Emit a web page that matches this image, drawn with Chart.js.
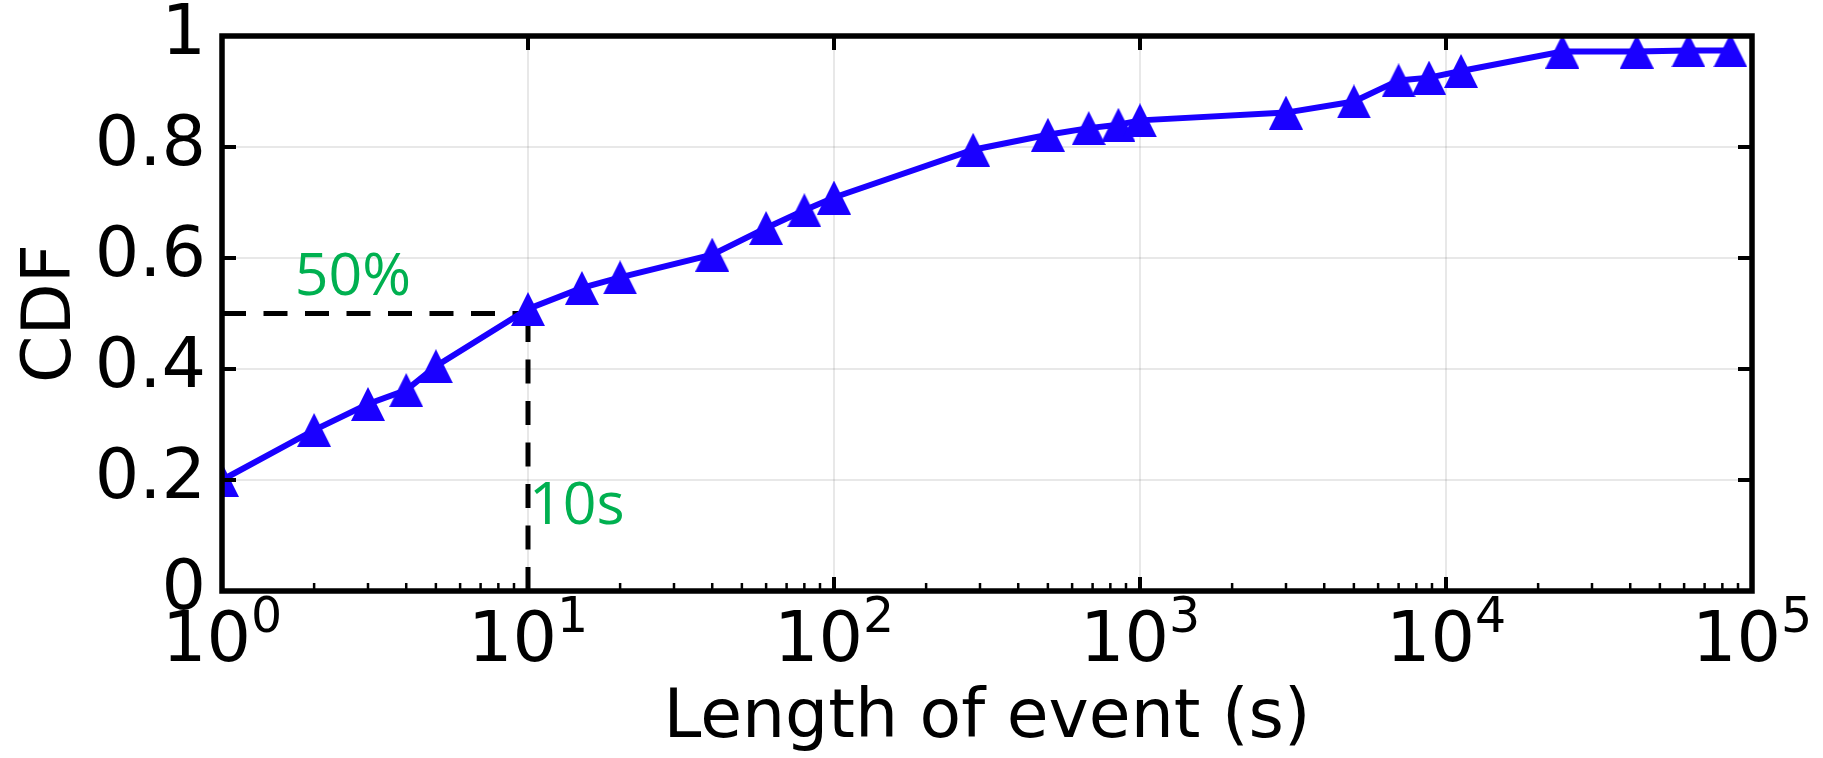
<!DOCTYPE html>
<html>
<head>
<meta charset="utf-8">
<script src="https://cdn.jsdelivr.net/npm/chart.js@4/dist/chart.umd.min.js"></script>
<style>
html,body{margin:0;padding:0;background:#fff;}
#wrap{width:1823px;height:758px;}
</style>
</head>
<body>
<div id="wrap"><canvas id="c" width="1823" height="758"></canvas></div>
<script>
// ---- data ----
const eventLengths = [1, 2, 3, 4, 5, 10, 15, 20, 40, 60, 80, 100, 285, 500, 680, 850, 1000, 3000, 5000, 7000, 8800, 11200, 24000, 42000, 62000, 85000];
const cdfValues    = [0.2, 0.29, 0.337, 0.362, 0.405, 0.508, 0.546, 0.565, 0.606, 0.654, 0.686, 0.709, 0.795, 0.822, 0.834, 0.840, 0.848, 0.862, 0.882, 0.920, 0.925, 0.937, 0.972, 0.972, 0.974, 0.974];
const xTickExponents = [0, 1, 2, 3, 4, 5];
const yTickValues = [0, 0.2, 0.4, 0.6, 0.8, 1];
const hGuideX = [1, 10];
const hGuideY = [0.5, 0.5];
const vGuideX = [10, 10];
const vGuideY = [0, 0.5];
const annotationTexts = ['50%', '10s'];
const annotationX = [1.73, 10];
const annotationY = [0.533, 0.12];

const BLUE = 'rgb(26,0,255)';
const GREEN = '#00B050';

function triangleImage(size, color) {
  const c = document.createElement('canvas');
  c.width = size; c.height = size;
  const g = c.getContext('2d');
  g.fillStyle = color;
  g.beginPath();
  g.moveTo(size / 2, 0);
  g.lineTo(size, size);
  g.lineTo(0, size);
  g.closePath();
  g.fill();
  return c;
}
const tri = triangleImage(34, BLUE);

const toPoints = (xs, ys) => xs.map((v, i) => ({x: v, y: ys[i]}));

const framePlugin = {
  id: 'frameTicks',
  afterDraw(chart) {
    const {ctx, chartArea: a, scales: {x, y}} = chart;
    ctx.save();
    ctx.strokeStyle = '#000';
    ctx.lineCap = 'butt';
    // major ticks, inward, all four sides
    ctx.lineWidth = 4;
    ctx.beginPath();
    for (const e of xTickExponents) {
      const px = x.getPixelForValue(Math.pow(10, e));
      ctx.moveTo(px, a.bottom); ctx.lineTo(px, a.bottom - 14);
      ctx.moveTo(px, a.top); ctx.lineTo(px, a.top + 14);
    }
    for (const v of yTickValues) {
      const py = y.getPixelForValue(v);
      ctx.moveTo(a.left, py); ctx.lineTo(a.left + 14, py);
      ctx.moveTo(a.right, py); ctx.lineTo(a.right - 14, py);
    }
    ctx.stroke();
    // minor ticks on bottom axis
    ctx.lineWidth = 2.5;
    ctx.beginPath();
    for (let i = 0; i < xTickExponents.length - 1; i++) {
      for (let m = 2; m <= 9; m++) {
        const px = x.getPixelForValue(m * Math.pow(10, xTickExponents[i]));
        ctx.moveTo(px, a.bottom); ctx.lineTo(px, a.bottom - 8);
      }
    }
    ctx.stroke();
    // frame
    ctx.lineWidth = 5.5;
    ctx.strokeRect(a.left, a.top, a.right - a.left, a.bottom - a.top);

    // x tick labels 10^n
    ctx.fillStyle = '#000';
    ctx.textAlign = 'left';
    ctx.textBaseline = 'alphabetic';
    const baseFont = '70px "DejaVu Sans"';
    const supFont = '49px "DejaVu Sans"';
    for (const e of xTickExponents) {
      const px = x.getPixelForValue(Math.pow(10, e));
      ctx.font = baseFont;
      const w1 = ctx.measureText('10').width;
      ctx.font = supFont;
      const w2 = ctx.measureText(String(e)).width;
      const x0 = px - (w1 + w2) / 2;
      ctx.font = baseFont;
      ctx.fillText('10', x0, a.bottom + 70);
      ctx.font = supFont;
      ctx.fillText(String(e), x0 + w1, a.bottom + 41);
    }

    // green annotations
    ctx.fillStyle = GREEN;
    ctx.font = '59px "Open Sans"';
    for (let i = 0; i < annotationTexts.length; i++) {
      const px = x.getPixelForValue(annotationX[i]);
      const py = y.getPixelForValue(annotationY[i]);
      ctx.fillText(annotationTexts[i], px + (i === 1 ? 1 : 0), py);
    }
    ctx.restore();
  }
};

const gridColor = 'rgba(0,0,0,0.09)';

new Chart(document.getElementById('c'), {
  type: 'line',
  data: {
    datasets: [
      {
        data: toPoints(eventLengths, cdfValues),
        borderColor: BLUE,
        backgroundColor: BLUE,
        borderWidth: 6,
        pointStyle: tri,
        pointRadius: 17,
        tension: 0,
        fill: false,
        clip: 0,
        order: 0
      },
      {
        data: toPoints(hGuideX, hGuideY),
        borderColor: '#000',
        borderWidth: 5,
        borderDash: [24, 17.5],
        pointRadius: 0,
        fill: false,
        clip: 0,
        order: 1
      },
      {
        data: toPoints(vGuideX, vGuideY),
        borderColor: '#000',
        borderWidth: 5,
        borderDash: [24, 17.5],
        pointRadius: 0,
        fill: false,
        clip: 0,
        order: 1
      }
    ]
  },
  options: {
    responsive: false,
    animation: false,
    devicePixelRatio: 1,
    layout: {padding: {left: 0, top: 36, right: 71, bottom: 0}},
    plugins: {legend: {display: false}, tooltip: {enabled: false}},
    scales: {
      x: {
        type: 'logarithmic',
        min: 1,
        max: 100000,
        afterBuildTicks(s) { s.ticks = xTickExponents.map(e => ({value: Math.pow(10, e), major: true})); },
        afterFit(s) { s.height = 758 - 591; },
        ticks: {display: false},
        grid: {color: gridColor, lineWidth: 2, drawTicks: false},
        border: {display: false},
        title: {
          display: true,
          text: 'Length of event (s)',
          color: '#000',
          font: {family: 'DejaVu Sans', size: 68, lineHeight: 1},
          padding: {top: 0, bottom: 5}
        }
      },
      y: {
        type: 'linear',
        min: 0,
        max: 1,
        afterBuildTicks(s) { s.ticks = yTickValues.map(v => ({value: v})); },
        afterFit(s) { s.width = 222; },
        ticks: {
          color: '#000',
          font: {family: 'DejaVu Sans', size: 70, lineHeight: 0.3},
          padding: 16,
          callback: v => String(Math.round(v * 10) / 10)
        },
        grid: {color: gridColor, lineWidth: 2, drawTicks: false},
        border: {display: false},
        title: {
          display: true,
          text: 'CDF',
          color: '#000',
          font: {family: 'DejaVu Sans', size: 68, lineHeight: 1},
          padding: {top: 18, bottom: 0}
        }
      }
    }
  },
  plugins: [framePlugin]
});
</script>
</body>
</html>
